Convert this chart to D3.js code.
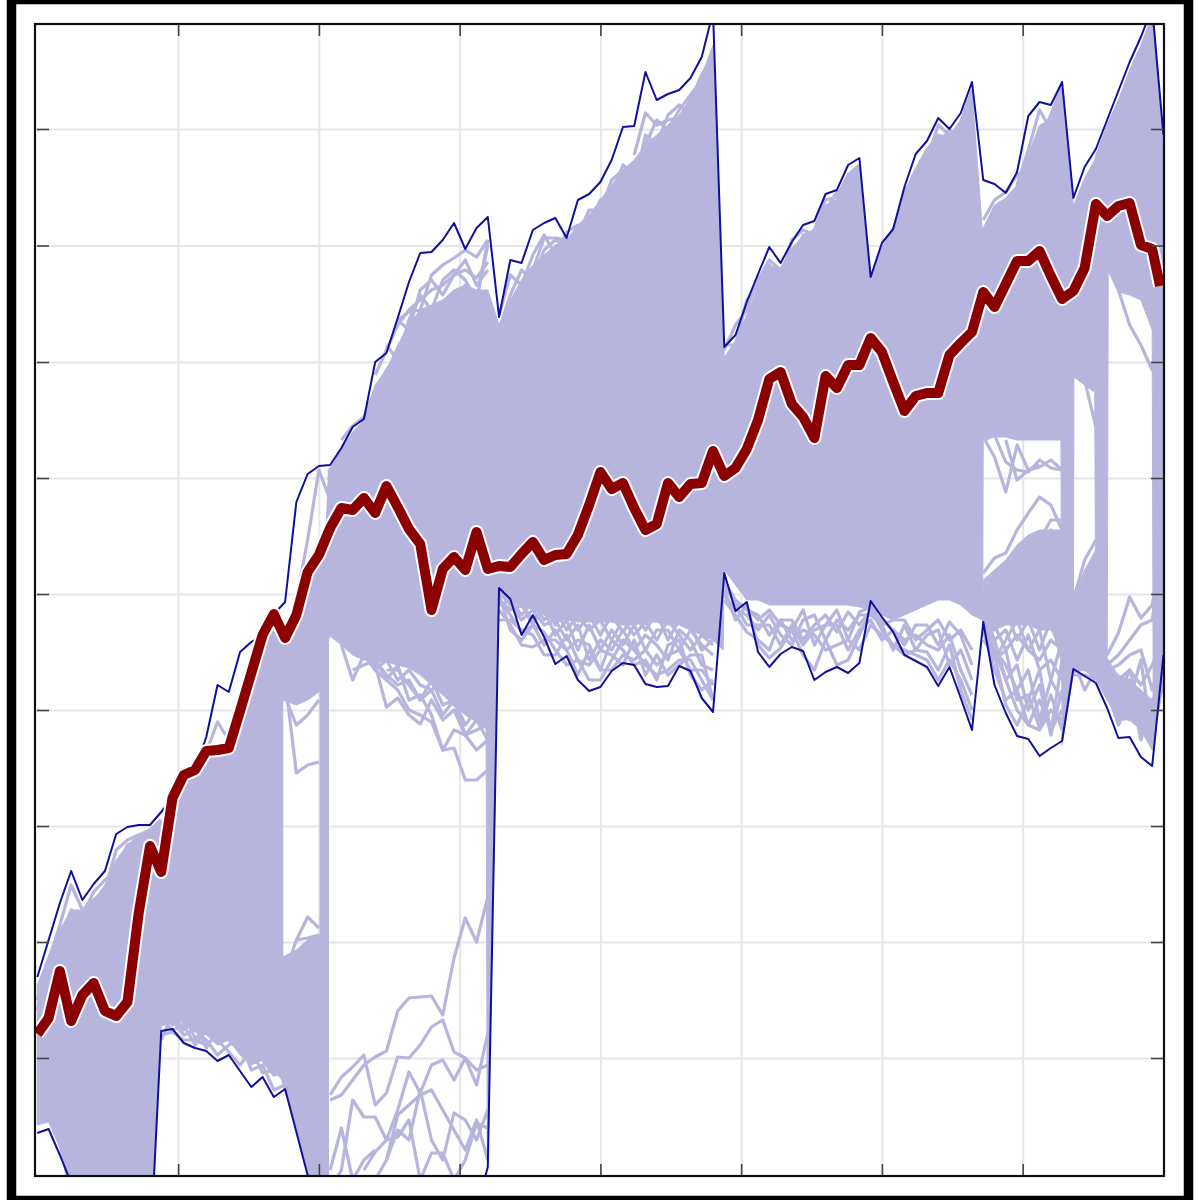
<!DOCTYPE html>
<html><head><meta charset="utf-8">
<style>html,body{margin:0;padding:0;background:#fff}svg{display:block}</style>
<script src="https://cdn.jsdelivr.net/npm/d3@7"></script>
</head><body><div id="chart"></div>
<script>
// ---------- data (index along x, unlabeled value along y) ----------
const xTicks=[12.5,25,37.5,50,62.5,75,87.5];
const yTicks=[14.2,25.8,37.4,49,60.6,72.2,83.8,95.45,107.1];

const hero=[16.6,18.2,22.9,17.9,20.5,21.7,18.9,18.4,19.8,28.7,35.4,32.8,40.2,42.5,43.0,44.9,45.0,45.2,48.9,52.7,56.5,58.6,56.2,58.5,62.8,64.5,67.2,69.2,69.0,70.2,68.7,71.4,69.3,67.1,65.6,59.0,63.1,64.3,63.0,66.8,63.1,63.4,63.3,64.6,65.8,64.0,64.5,64.6,66.5,69.5,72.8,71.1,71.7,69.2,67.0,67.6,71.7,70.3,71.6,71.7,74.9,72.4,73.2,75.1,78.0,82.1,82.8,79.6,78.3,76.2,82.4,81.2,83.5,83.5,86.2,84.8,81.8,78.9,80.4,80.7,80.7,84.5,85.7,86.8,90.8,89.3,91.6,93.9,93.9,94.9,92.4,90.1,90.9,93.2,99.6,98.4,99.4,99.7,95.5,95.1,91.4];
const heroLastIndex=99.7;

const upper=[22.3,26.0,29.7,32.9,30.0,31.6,32.9,36.6,37.3,37.5,37.5,38.8,40.2,42.5,43.0,46.3,51.5,50.8,54.8,55.8,56.5,58.6,59.8,69.8,72.6,73.4,73.5,75.2,77.3,78.1,83.8,84.7,88.2,91.8,94.7,94.8,96.0,97.7,95.1,97.2,98.3,88.3,94.0,93.7,97.0,97.7,98.2,96.2,100.0,100.6,101.8,104.0,107.3,107.4,112.8,110.0,110.6,111.0,112.2,114.3,118.8,85.3,86.5,89.8,92.6,95.3,93.7,95.8,97.5,97.9,100.6,101.0,103.5,104.2,92.3,95.7,97.1,101.3,104.6,105.9,108.2,107.1,108.7,111.8,102.0,101.6,100.7,102.8,108.4,109.8,109.5,111.8,100.2,103.3,105.1,108.0,110.9,113.8,116.3,119.2,106.5];

const lower=[6.7,7.1,4.5,1.7,-1,-3,-5,-7,-8,-7,-5.8,16.9,17.1,15.7,15.2,14.9,13.9,14.5,12.9,11.3,12.3,10.3,11.1,6.8,2.5,-1.5,-3,-4,-5,-6,-5,-4,-6,-5,-4,-5,-4,-3,-3,-1,3.3,61.2,60.1,56.5,58.5,56.3,53.6,54.4,52.0,50.9,51.3,52.9,53.7,53.5,51.6,51.3,51.4,53.4,52.9,50.2,48.8,62.7,58.9,59.8,54.8,53.3,54.6,55.3,54.9,52.0,52.8,53.3,52.7,53.7,59.9,58.3,56.8,54.5,53.9,53.3,51.4,53.3,50.2,47.0,57.8,51.5,48.7,46.4,46.1,44.4,45.2,45.9,53.1,52.4,51.7,49.2,46.2,46.3,44.3,43.4,54.5];

// dense mass of the ensemble: [index, top, bottom]
const massLeft=[[0,21.5,7.5],[1,24.5,7.8],[2,27,5.2],[3,29,0],[4,29,0],[5,30,0],[6,31.5,0],[7,34,0],[8,35.5,0],[9,36.5,0],[10,37,-5.8],[11,37.8,17.5],[12,40.5,18.5],[13,42.5,17.5],[14,43,17],[15,45,16.5],[16,45.2,15.5],[17,45.4,16],[18,48.8,14.5],[19,52.5,13.5],[20,56,14],[21,58,12.5],[21.8,56,12.5]];
const massGapLow=[[21.8,24.3,11.5],[23,25,7.2],[24,26,3],[25,26.5,-1.5],[25.7,27,-4]];
const massBundle=[[25.1,60,-5],[25.85,60,-5]];
const massMain=[[21.8,56,50],[23,58.2,49.5],[24,62.5,50],[25,64.5,50.8],[25.6,66,51],[25.85,73,56],[26,73.2,56.4],[27,75,55.5],[28,76.8,54.5],[29,78,54],[30,81.5,53.8],[31,83,53.8],[32,85.5,53.5],[33,87.5,53.2],[34,89,52.5],[35,89.5,51.5],[36,90,50.5],[37,91,49.5],[38,91.5,48.5],[39,91,47.8],[39.85,91,47.2],[39.95,91,5],[40,91,3.5],[41,87.5,60.8],
[42,90,60],[43,92,59.5],[44,93.5,59],[45,94.5,58.5],[46,95.5,58],[47,96,58],[48,97.5,57.8],[49,98.5,57.8],[50,100,57.8],[51,101.5,57.8],[52,103,57.5],[53,104,57.5],[54,105.5,57.8],[55,106.5,57.8],[56,107.5,57.5],[57,108.5,57.5],[58,110,57],[59,112.5,56.5],[60,115.5,56],[60.9,88,55],[61,84.2,63],
[62,86,61.5],[63,88.5,60],[64,91,60],[65,93.5,59.5],[66,93,59.5],[67,95,59.5],[68,96.5,59.5],[69,97,59.5],[70,99.5,59.5],[71,100,59.5],[72,102.5,59.5],[73,103.3,59.3],[74,91.8,59],[75,95,58.5],[76,96.5,58],[77,100.5,58.5],[78,103,59],[79,104.5,59.5],[80,106.5,60],[81,106.5,60],[82,108,59.5],[83,111,58.5],[83.95,96.5,58],
[84,97.2,76.3],[85,99.5,76.3],[86,100.2,76.3],[87,101.5,76],[88,104.5,76],[89,107.5,76],[90,108,76],[90.9,110.8,76],[91,111,45.5],[92,99.5,52.7],[92.05,99.5,82.3],[93,102.2,81.5],[93.9,104,80.8],[94,104.5,52],[95,107.5,50],[95.1,107.8,93],[96,110,90.8],[97,113,90.5],[98,115.5,90],[99,118.5,87],[99.1,119,45.5],[100,105,52.5]];
const massClusterA=[[84,62,56.5],[85,63,57],[86,64,57.5],[87,65.5,57.5],[88,66.5,57.5],[89,67,57],[90,67,57],[91,67,55]];
const massClusterB=[[92,60,52.7],[93,63,53],[94,65,52]];
const massClusterC=[[95,54,50],[96,52.5,48],[97,52,48],[98,51,47],[99,50,45],[100,53,52]];

// individual ensemble members that stand clear of the mass: [start index, values...]
const threadsLeft=[
[0,20,24,27.5,31.5,29,30,31,35,36,36.5,37,38],[0,19,23,26,29,28.5,30.8,32,33,35.5,36,36.5,37.5],
[15,44.8,47.8,46,49.5,53.5,56],
[11,16.5,16.8,16,16,15.5,16.5,16,15,14.5,14,12.5,13],[11,17.5,18,16.5,17,16,14.5,15.5,16,13,13.5,11,11.5],
[11,18,17,17.5,15.5,17,16,14.8,13.5,15,12.7,13,12],[11,19,17.5,18.5,16.2,16.8,17.5,16.5,17,14.5,15,14,11.5],
[11,16,18.5,17,18,15.2,17,17.5,15.5,16,14,15.5,14],
[22,52,42.7,43.5,43.8],[22,50.3,47.5,48.5,50],[22,22.7,26,28.3,27.2],[23,26,26.2,26.5],[23,60,66,73,70]];
const threadsGap=[
[26,10,10.5,12,13.5,14.3,14.9,18.9,20.2,20.3,20.4,18.5,24.2,28.2,25.8,30.3],
[26,10.5,12.3,13.3,14.5,9.5,10.7,14.3,14.2,15.5,17.3,18,14.8,14.2,11.5,16.7],
[26,1,3,10,8.3,8.3,6,9,12.8,10.7,13.5,14,12,14.2,13,13.5],
[30,2,4,7,6,11,6,4,8.7,8,6,9],
[31,4,8.5,9.5,10.5,11,9,7,5,8,4],
[29,3,4.8,6,6.3,8,2,4.7,4.7,2,4,7.7,7.2],
[26,3,7.2,2,4,5],
[29,54.5,53.5,49.3,50.2,48.5,47.6,50,48,49,46.5,47,47.5],
[27,55.5,52,54.5,53,52,53.5,50,50.5,48.5,45,45.2,42,42,43],
[28,53,53.5,54,52,51,49,48.5,47.8,45,47,46.5,45,46],
[30,54,52.5,51.5,52,50,51,48.5,50,46.5,48,46],
[31,53,53,51.5,50,52,49.5,50,47.5,49,47],
[26,63,58,56,55,53,54,52,53,51.5,51,52,49.5,50,48.5,49]];
const threadsTop=[
[33,86,89,92.5,93.5,94.2,95,94.3,96],[32,88,88.8,89,89.2,89,90,91.5,90,95.5],
[27,76,77.4,78.3,81,83,84.5,86.8,87,85,86,85.5,87,87.5,85],
[30,82.5,85,87.5,89,90,91,91.5,92.5,93,92.2,93.8],[31,85.5,84,88,90.5,89,92,93,92,90,96],[32,88,87,91,92,90.5,92.5,94,91.5,93],
[41,88.5,92.5,91.5,94.5,96.5,94.5,96.8,97.5,97.5,100,100.5,103.5,102.5,105.5,108,107,109,110.5,112,115],
[41,87,90.5,93,92,95,96,95.5,96.5,99,99,102,103,101.5,106.5,105.5,108.5,109.5,108.5,112.5,114.5],
[42,89,90,93,96.2,96.2,96,93.5,97.5,98,99.5],
[53,104.5,108.7,107.5,108,108.2,110,112.5],[50,98,100,101.5,99,105,103,105,106,106.5,109,113],
[61,85,87.5,89,92,94,93,95,96.2,97,100,100.3,102.5,103.5],[61,85.5,85.5,90,91.5,93.5,92,96,97,96.5,99,100.8,101,103.3],
[63,88.2,91,93,92,93.8,96.5,96.8,99.2,100,102.2,102.5],
[74,92,95,97,100.5,103,105,106.5,105.5,107.8,111],[74,92.2,93.5,96.5,101,102,104,107.5,106.5,106,110.3],
[77,100,102.5,105,105.5,107,106.3,108.7],[84,98,100,100.8,102.5,103,106,108.5,111.5],[87,101.5,105,109,107,111],
[95,93.5,91,87.5,85.5,83,90],[92,86,82,77.3]];
const threadsMidLow=[
[41,60.5,57,56,57.5,56.8,55,53.5,54,52,52,54,56,55,53.5,52.5,53,54,54,52,50],
[41,59,57.5,55.5,55.3,56,56,55,52.5,55,53,53,54.5,54,55,53.5,54.5,55,53,53,51.5],
[41,58,58,57,56.5,54.5,54.5,56.5,54,53.5,55,54.5,53.5,56,52.5,54.5,52.5,53.5,54.5,54.5,50],
[41,60,58.5,56.8,57.5,55.5,57,55,56,55.5,53,56,55,53.5,54,52,55.5,56,52.5,51,52],
[41,60.8,59.5,58,59,57.5,58,56,57.5,54,56,55,57,55,56.5,55.5,54,57,56,53.5,53],
[41,61,60,59.5,58,59,56.5,58,55,57.5,55,57,55.5,57.5,55,57,57,55,57,55.5,54.5],
[41,59.5,60,58.5,59.8,58,59,57,58.5,57,58,56,58,56.5,57.8,56,58,56.5,55,56.5,55.5],
[41,60,59,59.5,57.5,59.5,57.5,59,57,58.5,56.5,58.5,56.8,58.5,57,58.7,56,58,57.5,55,56],
[61,61,58,59.5,55.5,54.2,55.2,57,54.5,53,56,53.5,54,56.5,59,57,55.5,55,54.5,54,52,54,52,49],
[61,60,58.5,56.8,56,55,58,56,57,56.5,55,55.5,56,55,57.5,56.5,55.5,54.5,55,54.8,53,55.5,51,48],
[61,61.5,59.5,57.5,57.5,57.5,55.5,57.5,55.5,57,57.5,57.5,55,57,58,56,57,56,56.5,55.5,55,56.5,53,50.5],
[61,60.5,59,58.5,57,58.5,56.5,55.5,58,58.5,56,58,57,58.5,58.5,57.5,55,57.5,55,56.5,57,53.5,55,52],
[61,61.8,60,59,58.5,56.5,58,58,56,57.5,58.5,56.8,58.8,57.5,59,58,57,55.5,57.5,57.5,55.5,57.8,56.5,53.5],
[61,62,59.5,59.2,58,59,57.5,57,59,55.5,57.5,59,56,58.8,59.3,57.5,58,58,56,57,58,56,57,55]];
const threadsRight=[
[84,76.3,74.3,70.8,75.5,73,73.5],[84,76,76.5,73.8,73,72.8,74,73.2,73],[86,76,72,73,73.3,74,73],
[84,62.7,64.2,64.7,67,68.7,70.3,69.5,67],[84,60,62,62,64,66,66,68,68],
[84,59.5,61,63,65,62,65.5,67,65],[84,58,60,62,62.5,64,66,63,66],[84,59,59,61,60,63,60,62,62],[84,58,57,58.5,61,60,62,60,61],
[84,57.5,55,53.5,51,53,48,52,50],[84,57,56,52,53.5,49,51.5,46.5,51],[84,58,57.5,55,56.5,55,54,56,55],
[84,57,53,50,51,47.5,47,49,48],[84,59,56,57,54,56.5,53,54,52],[84,57.5,54,56,58,55,57,52,56],[84,60,58,59,56,58,55,58,54],
[84,58,55,52,49,47.5,50,47,49],[84,59,54,55,50,50.5,47.2,50.5,47],[84,56,54.5,49.5,47.5,50,53,46.8,54],
[92,60,64,66],[92,59,62,64.5],[92,57,60,63],[92,55,58,55],[92,56,53,55],[92,53,55,59],[92,54,51,53],[92,52.5,52.5,52],
[95,54.5,56.7,60.3,58.2,59.5,66],[95,53.5,54.5,56,57.5,58,65],[95,53,53.5,54.5,55,51,55],[95,53,50,53,51.5,53.5,56],
[95,50,52,53,49,49.5,54],[95,52,48,52,46,50,51],[95,51,47.5,50,54,46,52],[95,54,52,48,50,45.5,55]];

// ---------- drawing ----------
const W=1200,H=1200,L=35,R=1164,T=24,B=1176;
const svg=d3.select("#chart").append("svg").attr("width",W).attr("height",H);
const x=d3.scaleLinear().domain([-0.21,100.05]).range([L,R]);
const y=d3.scaleLinear().domain([2.4,117.6]).range([B,T]);

svg.append("defs").append("clipPath").attr("id","plot").append("rect")
  .attr("x",L).attr("y",T).attr("width",R-L).attr("height",B-T);

// gridlines, built with the library's axes
const grid=svg.append("g");
grid.append("g").attr("transform",`translate(0,${B})`)
  .call(d3.axisBottom(x).tickValues(xTicks).tickSize(-(B-T)).tickFormat(""))
  .call(g=>g.select(".domain").remove())
  .call(g=>g.selectAll("line").attr("stroke","#e6e6e6").attr("stroke-width",2));
grid.append("g").attr("transform",`translate(${L},0)`)
  .call(d3.axisLeft(y).tickValues(yTicks).tickSize(-(R-L)).tickFormat(""))
  .call(g=>g.select(".domain").remove())
  .call(g=>g.selectAll("line").attr("stroke","#e6e6e6").attr("stroke-width",2));

const plot=svg.append("g").attr("clip-path","url(#plot)");
const massColor="#b7b5dd";
const area=d3.area().x(d=>x(d[0])).y0(d=>y(d[2])).y1(d=>y(d[1]));
[massLeft,massGapLow,massBundle,massMain,massClusterA,massClusterB,massClusterC].forEach(m=>{
  plot.append("path").attr("d",area(m)).attr("fill",massColor).attr("stroke",massColor).attr("stroke-width",1);
});

const line=d3.line().x(d=>x(d[0])).y(d=>y(d[1]));
const threadPts=t=>t.slice(1).map((v,k)=>[t[0]+k,v]);
[...threadsLeft,...threadsGap,...threadsTop,...threadsMidLow,...threadsRight].forEach(t=>{
  plot.append("path").attr("d",line(threadPts(t))).attr("fill","none")
    .attr("stroke",massColor).attr("stroke-width",3.2).attr("stroke-linejoin","round");
});

const series=a=>a.map((v,i)=>[i,v]);
[upper,lower].forEach(a=>{
  plot.append("path").attr("d",line(series(a))).attr("fill","none")
    .attr("stroke","#10109a").attr("stroke-width",2).attr("stroke-linejoin","round");
});
const heroPts=hero.map((v,i)=>[i===hero.length-1?heroLastIndex:i,v]);
plot.append("path").attr("d",line(heroPts)).attr("fill","none")
  .attr("stroke","#fff").attr("stroke-width",14).attr("stroke-linejoin","round");
plot.append("path").attr("d",line(heroPts)).attr("fill","none")
  .attr("stroke","#8b0000").attr("stroke-width",10).attr("stroke-linejoin","round");

// inward ticks on all four sides
const tickStyle=g=>{g.select(".domain").remove();g.selectAll("line").attr("stroke","#444").attr("stroke-width",1.6);};
svg.append("g").attr("transform",`translate(0,${B})`).call(d3.axisBottom(x).tickValues(xTicks).tickSize(-12).tickFormat("")).call(tickStyle);
svg.append("g").attr("transform",`translate(0,${T})`).call(d3.axisTop(x).tickValues(xTicks).tickSize(-12).tickFormat("")).call(tickStyle);
svg.append("g").attr("transform",`translate(${L+2},0)`).call(d3.axisLeft(y).tickValues(yTicks).tickSize(-12).tickFormat("")).call(tickStyle);
svg.append("g").attr("transform",`translate(${R-1},0)`).call(d3.axisRight(y).tickValues(yTicks).tickSize(-12).tickFormat("")).call(tickStyle);

// axes frame and outer border
svg.append("rect").attr("x",L).attr("y",T).attr("width",R-L).attr("height",B-T)
  .attr("fill","none").attr("stroke","#111").attr("stroke-width",2.2);
svg.append("rect").attr("x",11.5).attr("y",-0.5).attr("width",1177).attr("height",1201)
  .attr("fill","none").attr("stroke","#000").attr("stroke-width",9.5);
</script></body></html>
